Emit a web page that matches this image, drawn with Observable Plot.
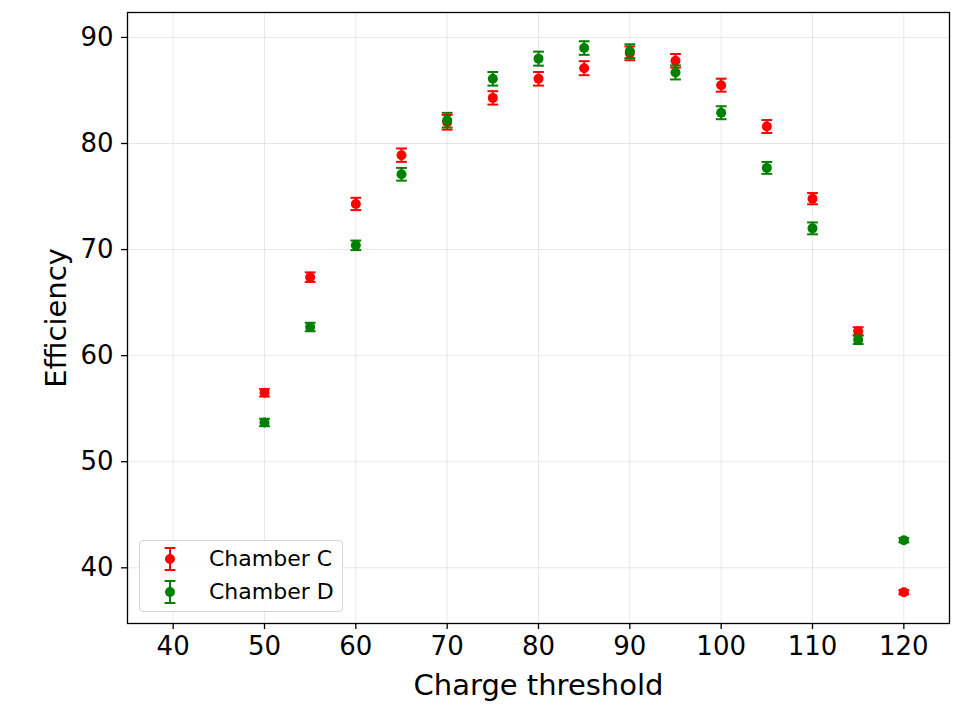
<!DOCTYPE html>
<html>
<head>
<meta charset="utf-8">
<script src="https://cdn.jsdelivr.net/npm/d3@7"></script>
<script src="https://cdn.jsdelivr.net/npm/@observablehq/plot@0.6"></script>
<style>
  html, body { margin: 0; padding: 0; background: white; }
  #wrap { position: relative; width: 972px; height: 706px; font-family: "DejaVu Sans", sans-serif; }
  #legend {
    position: absolute; left: 139px; top: 540px; width: 202px; height: 70px;
    border: 1px solid #d4d4d4; border-radius: 4px; background: rgba(255,255,255,0.85);
  }
  .row { position: absolute; left: 0; height: 30px; display: flex; align-items: center; }
  .row svg { position: absolute; left: 19px; top: 0; }
  .row span { position: absolute; left: 69px; font-size: 22px; line-height: 30px; white-space: nowrap; color: #000; }
</style>
</head>
<body>
<div id="wrap"></div>
<script>
// ---- data ----
const thresholds = [50, 55, 60, 65, 70, 75, 80, 85, 90, 95, 100, 105, 110, 115, 120];
const chamberC    = [56.5, 67.4, 74.3, 78.9, 82.0, 84.3, 86.1, 87.1, 88.5, 87.8, 85.5, 81.6, 74.8, 62.3, 37.7];
const chamberCErr = [0.35, 0.45, 0.58, 0.63, 0.69, 0.63, 0.64, 0.66, 0.65, 0.64, 0.61, 0.61, 0.53, 0.38, 0.2];
const chamberD    = [53.7, 62.7, 70.4, 77.1, 82.2, 86.1, 88.0, 89.0, 88.7, 86.7, 82.9, 77.7, 72.0, 61.5, 42.6];
const chamberDErr = [0.35, 0.4, 0.45, 0.6, 0.69, 0.64, 0.66, 0.64, 0.65, 0.66, 0.61, 0.56, 0.56, 0.4, 0.2];
const seriesNames = ["Chamber C", "Chamber D"];
const seriesColors = ["#ff0000", "#008000"];
const xTicks = [40, 50, 60, 70, 80, 90, 100, 110, 120];
const yTicks = [40, 50, 60, 70, 80, 90];
const xLabel = "Charge threshold";
const yLabel = "Efficiency";

// ---- build tables ----
const seriesVals = [chamberC, chamberD];
const seriesErrs = [chamberCErr, chamberDErr];
const tables = seriesNames.map((name, s) =>
  thresholds.map((t, i) => ({t, v: seriesVals[s][i], e: seriesErrs[s][i], name}))
);

// horizontal cap symbol for error bars
const capSymbol = {
  draw(context, size) {
    const w = Math.sqrt(size / Math.PI);
    context.moveTo(-w, 0);
    context.lineTo(w, 0);
  }
};

const seriesMarks = tables.flatMap((rows, s) => [
  Plot.ruleX(rows, {x: "t", y1: d => d.v - d.e, y2: d => d.v + d.e, stroke: seriesColors[s], strokeWidth: 2}),
  Plot.dot(rows, {x: "t", y: d => d.v - d.e, symbol: capSymbol, r: 5.4, fill: "none", stroke: seriesColors[s], strokeWidth: 2}),
  Plot.dot(rows, {x: "t", y: d => d.v + d.e, symbol: capSymbol, r: 5.4, fill: "none", stroke: seriesColors[s], strokeWidth: 2}),
  Plot.dot(rows, {x: "t", y: "v", r: 5, fill: seriesColors[s], stroke: "none"})
]);

const chart = Plot.plot({
  width: 972,
  height: 706,
  marginLeft: 127,
  marginRight: 23,
  marginTop: 12,
  marginBottom: 83,
  style: {fontFamily: "DejaVu Sans, sans-serif", fontSize: "26px", background: "white", color: "black", overflow: "visible"},
  x: {domain: [35, 125]},
  y: {domain: [34.75, 92.35]},
  marks: [
    Plot.gridX(xTicks, {stroke: "#000", strokeOpacity: 0.09, strokeWidth: 1}),
    Plot.gridY(yTicks, {stroke: "#000", strokeOpacity: 0.09, strokeWidth: 1}),
    Plot.axisX({ticks: xTicks, tickSize: 6, tickPadding: 7, fontSize: 26, label: null, strokeWidth: 1.3, tickFormat: d => String(d)}),
    Plot.axisY({ticks: yTicks, tickSize: 6, tickPadding: 8, fontSize: 26, label: null, strokeWidth: 1.3, tickFormat: d => String(d)}),
    ...seriesMarks,
    Plot.frame({stroke: "black", strokeWidth: 1.3}),
    Plot.text([xLabel], {frameAnchor: "bottom", dy: 71, lineAnchor: "bottom", textAnchor: "middle", fontSize: 29, fill: "black"}),
    Plot.text([yLabel], {frameAnchor: "left", dx: -82, rotate: -90, lineAnchor: "top", textAnchor: "middle", fontSize: 29, fill: "black"})
  ]
});

const wrap = document.getElementById("wrap");
wrap.appendChild(chart);

// ---- legend overlay ----
const legend = document.createElement("div");
legend.id = "legend";
seriesNames.forEach((name, s) => {
  const row = document.createElement("div");
  row.className = "row";
  row.style.top = (3 + s * 33) + "px";
  const c = seriesColors[s];
  row.innerHTML = `<svg width="22" height="30" viewBox="-11 -15 22 30">
      <line x1="0" y1="-11" x2="0" y2="11" stroke="${c}" stroke-width="2"/>
      <line x1="-5.4" y1="-11" x2="5.4" y2="-11" stroke="${c}" stroke-width="2"/>
      <line x1="-5.4" y1="11" x2="5.4" y2="11" stroke="${c}" stroke-width="2"/>
      <circle cx="0" cy="0" r="5" fill="${c}"/>
    </svg><span>${name}</span>`;
  legend.appendChild(row);
});
wrap.appendChild(legend);
</script>
</body>
</html>
